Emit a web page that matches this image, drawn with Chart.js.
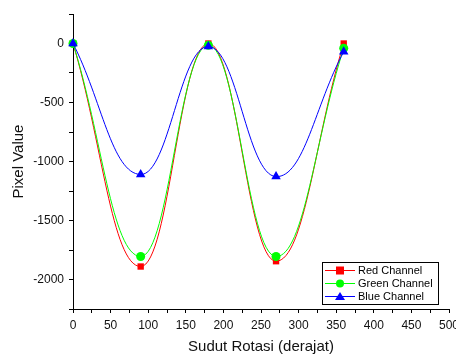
<!DOCTYPE html>
<html>
<head>
<meta charset="utf-8">
<script src="https://cdn.jsdelivr.net/npm/chart.js@4/dist/chart.umd.min.js"></script>
<style>
  html, body { margin: 0; padding: 0; background: #fff; }
  #wrap { width: 456px; height: 356px; }
</style>
</head>
<body>
<div id="wrap"><canvas id="grafik"></canvas></div>
<script>
// sudut rotasi (derajat)
const sudut = [0, 90, 180, 270, 360];
const merah = [0, -1890, 0, -1845, 0];
const hijau = [0, -1805, -15, -1805, -40];
const biru = [0, -1110, -25, -1128, -70];

const namaSeri = ["Red Channel", "Green Channel", "Blue Channel"];
const ticksX = [0, 50, 100, 150, 200, 250, 300, 350, 400, 450, 500];
const ticksY = [0, -500, -1000, -1500, -2000];

const toXY = arr => arr.map((v, i) => ({ x: sudut[i], y: v }));

// legenda kotak di kanan bawah
const legendaKotak = {
  id: "legendaKotak",
  afterDatasetsDraw(chart) {
    const { ctx, chartArea } = chart;
    const w = 116, h = 42;
    const x0 = chartArea.right - 127, y0 = chartArea.bottom - 47;
    ctx.save();
    ctx.fillStyle = "#fff";
    ctx.fillRect(x0, y0, w, h);
    ctx.strokeStyle = "#000";
    ctx.lineWidth = 1;
    ctx.strokeRect(x0 + 0.5, y0 + 0.5, w, h);
    ctx.font = "11px 'Liberation Sans', Arial, sans-serif";
    ctx.textBaseline = "middle";
    chart.data.datasets.forEach((ds, i) => {
      const y = y0 + 8 + i * 13;
      ctx.strokeStyle = ds.borderColor;
      ctx.beginPath();
      ctx.moveTo(x0 + 3, y + 0.5);
      ctx.lineTo(x0 + 33, y + 0.5);
      ctx.stroke();
      ctx.fillStyle = ds.borderColor;
      const cx = x0 + 18;
      if (ds.pointStyle === "rect") {
        ctx.fillRect(cx - 4, y - 3.5, 8, 8);
      } else if (ds.pointStyle === "circle") {
        ctx.beginPath();
        ctx.arc(cx, y + 0.5, 4, 0, Math.PI * 2);
        ctx.fill();
      } else {
        ctx.beginPath();
        ctx.moveTo(cx, y - 4);
        ctx.lineTo(cx + 5, y + 4);
        ctx.lineTo(cx - 5, y + 4);
        ctx.closePath();
        ctx.fill();
      }
      ctx.fillStyle = "#000";
      ctx.fillText(ds.label, x0 + 36, y + 1);
    });
    ctx.restore();
  }
};

const fontTick = { family: "'Liberation Sans', Arial, sans-serif", size: 12 };
const fontJudul = { family: "'Liberation Sans', Arial, sans-serif", size: 15 };

new Chart(document.getElementById("grafik"), {
  type: "line",
  data: {
    datasets: [
      {
        label: namaSeri[0], data: toXY(merah),
        borderColor: "#ff0000", backgroundColor: "#ff0000",
        pointStyle: "rect", pointRadius: 4.5, order: 3
      },
      {
        label: namaSeri[1], data: toXY(hijau),
        borderColor: "#00ff00", backgroundColor: "#00ff00",
        pointStyle: "circle", pointRadius: 4.5, order: 2
      },
      {
        label: namaSeri[2], data: toXY(biru),
        borderColor: "#0000ff", backgroundColor: "#0000ff",
        pointStyle: "triangle", pointRadius: 5.5, order: 1
      }
    ]
  },
  options: {
    responsive: true,
    maintainAspectRatio: false,
    animation: false,
    layout: { padding: { top: 14, right: 7, left: 0, bottom: 0 } },
    elements: {
      line: { borderWidth: 1, tension: 0.42, fill: false },
      point: { borderWidth: 0, hoverRadius: 5 }
    },
    clip: false,
    plugins: {
      legend: { display: false },
      tooltip: { enabled: false }
    },
    scales: {
      x: {
        type: "linear",
        min: 0, max: 500,
        ticks: {
          stepSize: 25,
          autoSkip: false,
          maxRotation: 0,
          color: "#111",
          font: fontTick,
          padding: 5,
          callback: v => ticksX.includes(v) ? v : ""
        },
        grid: { drawOnChartArea: false, drawTicks: true, tickLength: 4, color: "#000" },
        border: { display: true, color: "#000", width: 1 },
        title: { display: true, text: "Sudut Rotasi (derajat)", color: "#111", font: fontJudul, padding: { top: 4, bottom: 0 } },
        afterFit(s) { s.height = 47; s.paddingLeft = 0; s.paddingRight = 0; }
      },
      y: {
        min: -2250, max: 250,
        ticks: {
          stepSize: 250,
          autoSkip: false,
          color: "#111",
          font: fontTick,
          padding: 5,
          callback: v => ticksY.includes(v) ? v : ""
        },
        grid: { drawOnChartArea: false, drawTicks: true, tickLength: 4, color: "#000" },
        border: { display: true, color: "#000", width: 1 },
        title: { display: true, text: "Pixel Value", color: "#111", font: fontJudul, padding: { top: 10, bottom: 4 } },
        afterFit(s) { s.width = 73; s.paddingTop = 0; s.paddingBottom = 0; }
      }
    }
  },
  plugins: [legendaKotak]
});
</script>
</body>
</html>
